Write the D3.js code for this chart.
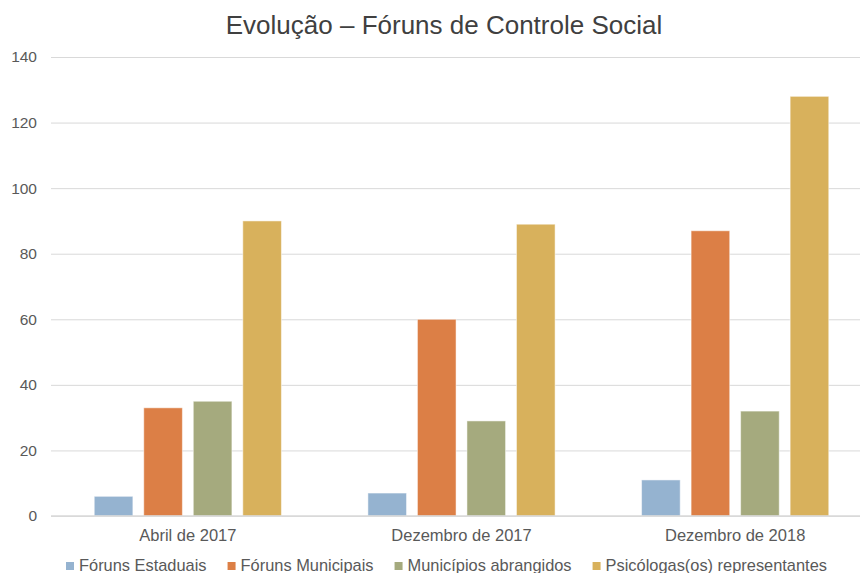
<!DOCTYPE html>
<html>
<head>
<meta charset="utf-8">
<script src="https://cdn.jsdelivr.net/npm/d3@7"></script>
<style>
    body { margin: 0; background: #fff; }
    svg { font-family: "Liberation Sans", Arial, sans-serif; }
</style>
</head>
<body>
<div id="chart"></div>
<script>
const categories = ["Abril de 2017", "Dezembro de 2017", "Dezembro de 2018"];
const seriesNames = ["Fóruns Estaduais", "Fóruns Municipais", "Municípios abrangidos", "Psicólogas(os) representantes"];
const forunsEstaduais = [6, 7, 11];
const forunsMunicipais = [33, 60, 87];
const municipiosAbrangidos = [35, 29, 32];
const psicologas = [90, 89, 128];
const yTicks = [0, 20, 40, 60, 80, 100, 120, 140];
const colors = ["#95b3d0", "#dc7f46", "#a5aa7e", "#d8b15c"];

const allSeries = [forunsEstaduais, forunsMunicipais, municipiosAbrangidos, psicologas];

const width = 860, height = 573;

let svg = d3.select("#chart")
    .append("svg")
    .attr("width", width)
    .attr("height", height);

// scales
let x = d3.scaleBand()
    .domain(categories)
    .range([51, 872]);

let x1 = d3.scaleBand()
    .domain(seriesNames)
    .range([x.bandwidth() * 0.158, x.bandwidth() * 0.842])
    .paddingInner(0.22);

let y = d3.scaleLinear()
    .domain([0, 140])
    .range([516, 57]);

// title
svg.append("text")
    .attr("x", 444)
    .attr("y", 34)
    .attr("text-anchor", "middle")
    .attr("font-size", "26px")
    .attr("fill", "#404040")
    .text("Evolução – Fóruns de Controle Social");

// gridlines + y labels
let yAxis = svg.append("g")
    .attr("transform", "translate(51,0)")
    .call(d3.axisLeft(y).tickValues(yTicks).tickSize(-(width - 51)).tickPadding(14));
yAxis.select(".domain").remove();
yAxis.selectAll(".tick line").attr("stroke", "#d9d9d9");
yAxis.selectAll(".tick text")
    .attr("font-size", "15.5px")
    .attr("font-family", "Liberation Sans, Arial, sans-serif")
    .attr("fill", "#595959");

// bars
let groups = svg.selectAll(".grp")
    .data(categories)
    .enter()
    .append("g")
    .attr("transform", d => "translate(" + x(d) + ",0)");

groups.selectAll("rect")
    .data((c, i) => seriesNames.map((s, j) => ({ s: s, v: allSeries[j][i], j: j })))
    .enter()
    .append("rect")
    .attr("x", d => x1(d.s))
    .attr("y", d => y(d.v))
    .attr("width", x1.bandwidth())
    .attr("height", d => y(0) - y(d.v))
    .attr("fill", d => colors[d.j])
    .attr("stroke", "#fff")
    .attr("stroke-opacity", 0.5)
    .attr("stroke-width", 1);

// x axis line
svg.append("line")
    .attr("x1", 51).attr("x2", width)
    .attr("y1", y(0)).attr("y2", y(0))
    .attr("stroke", "#d9d9d9")
    .attr("stroke-width", 1.5);

// category labels
svg.selectAll(".cat")
    .data(categories)
    .enter()
    .append("text")
    .attr("x", d => x(d) + x.bandwidth() / 2)
    .attr("y", 541)
    .attr("text-anchor", "middle")
    .attr("font-size", "16.5px")
    .attr("fill", "#595959")
    .text(d => d);

// legend
let lx = 66;
seriesNames.forEach((name, i) => {
    svg.append("rect")
        .attr("x", lx)
        .attr("y", 562)
        .attr("width", 8)
        .attr("height", 8)
        .attr("fill", colors[i]);
    let t = svg.append("text")
        .attr("x", lx + 13)
        .attr("y", 571)
        .attr("font-size", "16.4px")
        .attr("fill", "#595959")
        .text(name);
    lx += 13 + t.node().getComputedTextLength() + 21;
});
</script>
</body>
</html>
